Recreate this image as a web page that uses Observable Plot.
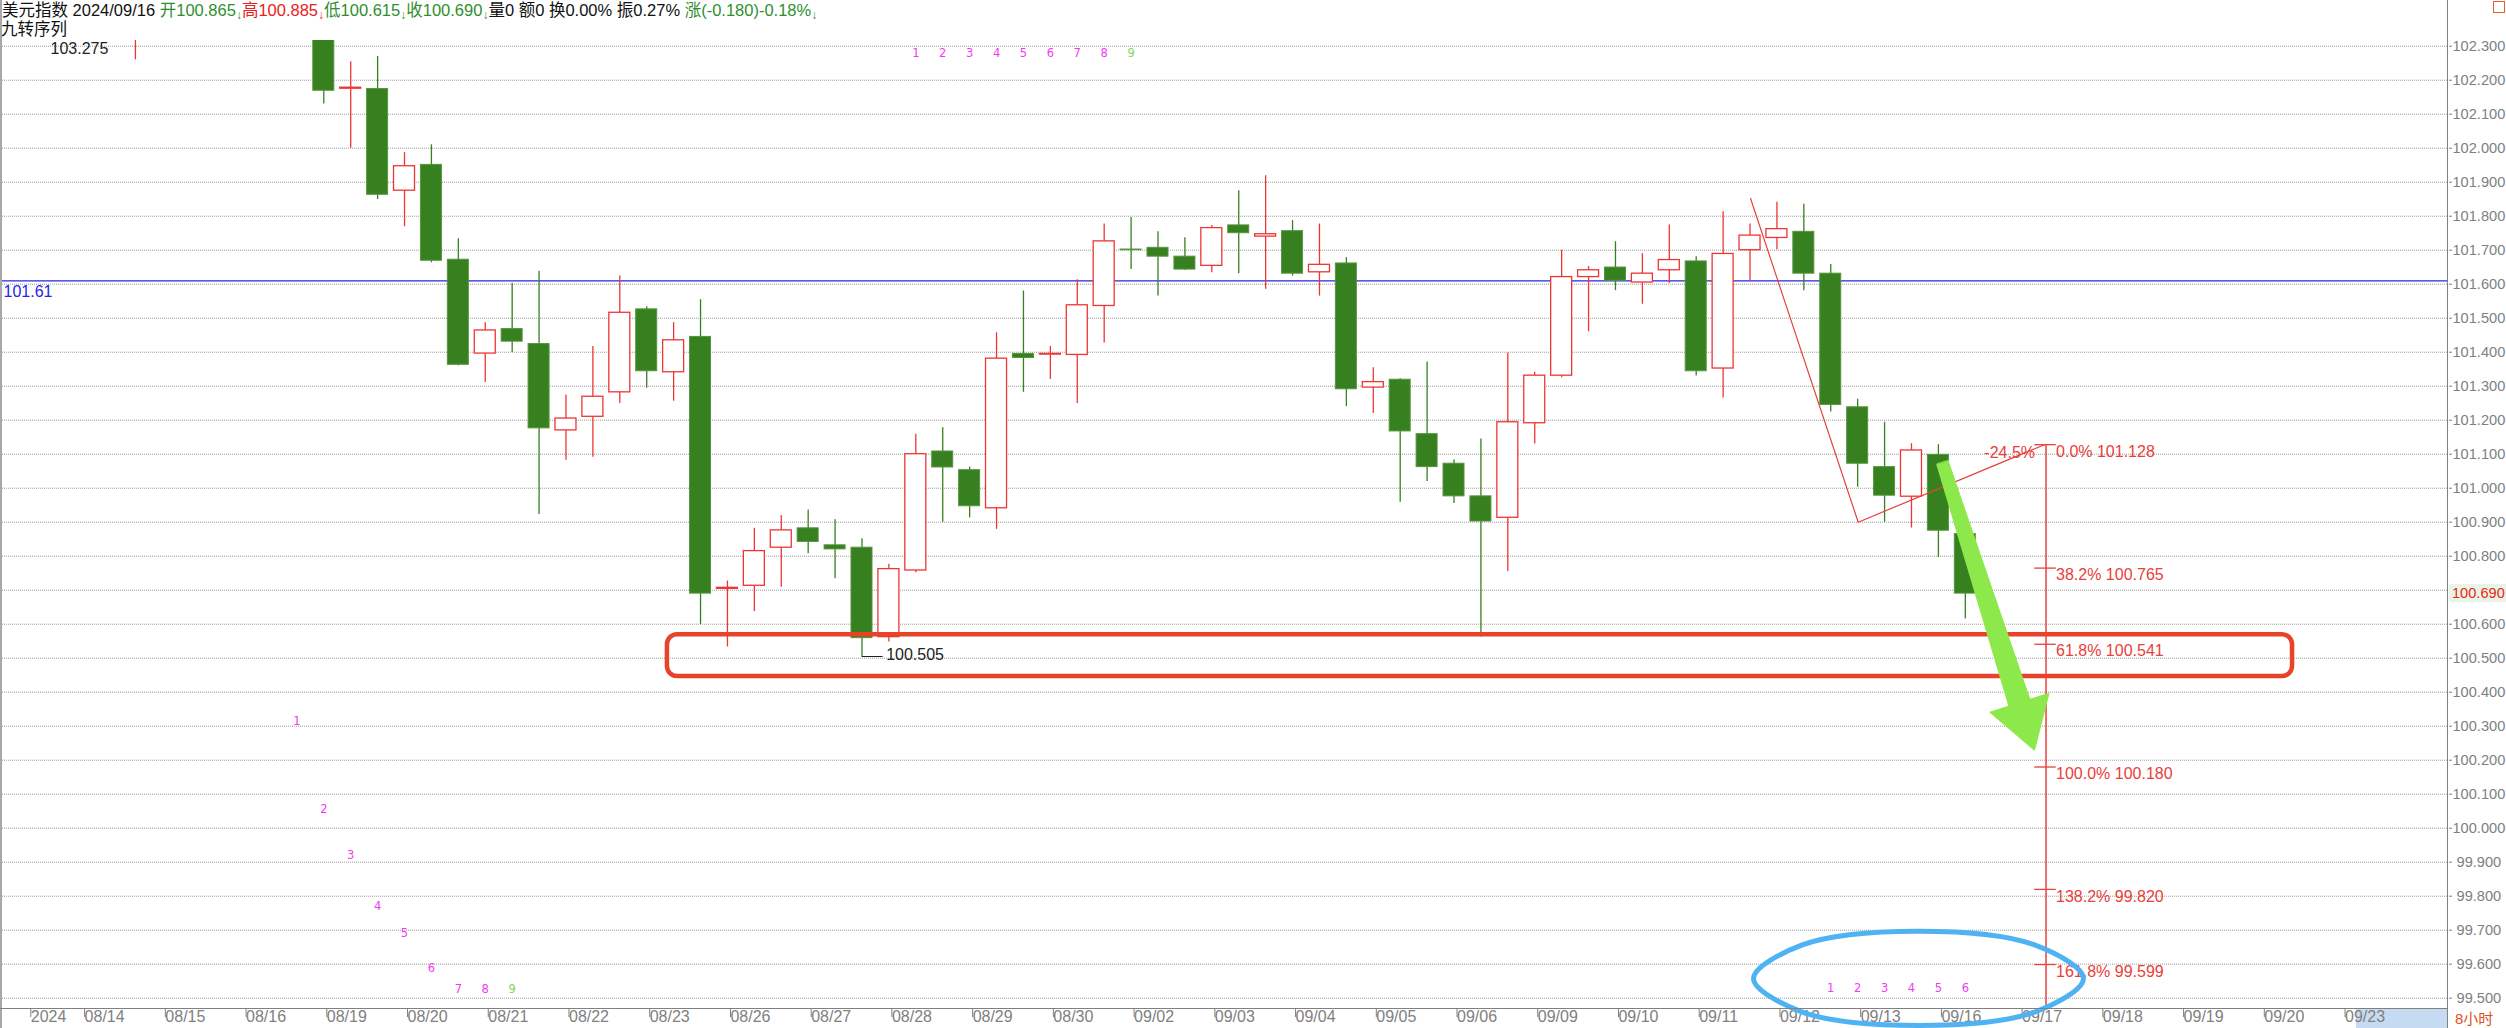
<!DOCTYPE html>
<html><head><meta charset="utf-8">
<script src="https://cdn.jsdelivr.net/npm/d3@7"></script>
<script src="https://cdn.jsdelivr.net/npm/@observablehq/plot@0.6"></script>
<style>
body{margin:0;background:#fff;}
#wrap{position:relative;width:2506px;height:1028px;overflow:hidden;background:#fff;font-family:"Liberation Sans",Arial,"Noto Sans CJK SC",sans-serif;}
.ov{position:absolute;white-space:nowrap;}
.g{color:#2f8f2f}.r{color:#e82020}.k{color:#111}
.ar{font-size:12px;position:relative;top:3px;}
</style></head>
<body><div id="wrap">
<div class="ov" style="left:2px;top:0px;font-size:16.5px;line-height:20px;z-index:2;"><span class="k">美元指数 2024/09/16 </span><span class="g">开100.865<span class="ar">↓</span></span><span class="r">高100.885<span class="ar">↓</span></span><span class="g">低100.615<span class="ar">↓</span></span><span class="g">收100.690<span class="ar">↓</span></span><span class="k">量0 额0 换0.00% 振0.27% </span><span class="g">涨(-0.180)-0.18%<span class="ar">↓</span></span></div>
<div class="ov k" style="left:1px;top:19px;font-size:16.5px;line-height:20px;z-index:2;">九转序列</div>
</div>
<script>
// ---------- data ----------
const firstBar = 9; // bar index of first fully listed 8-hour bar (08/19 first bar)
const opens  = [102.42,102.175,102.174,101.875,101.951,101.672,101.396,101.468,101.424,101.170,101.210,101.282,101.526,101.341,101.445,100.704,100.713,100.825,100.882,100.832,100.825,100.562,100.758,101.108,101.053,100.941,101.395,101.393,101.392,101.536,101.702,101.707,101.681,101.654,101.773,101.740,101.756,101.635,101.661,101.296,101.319,101.159,101.072,100.976,100.913,101.191,101.331,101.621,101.649,101.605,101.641,101.667,101.352,101.700,101.736,101.754,101.631,101.238,101.062,100.975,101.098,100.865];
const highs  = [102.50,102.254,102.270,101.987,102.010,101.734,101.487,101.603,101.638,101.274,101.417,101.624,101.534,101.487,101.554,100.727,100.882,100.920,100.936,100.907,100.851,100.776,101.159,101.178,101.062,101.457,101.580,101.417,101.613,101.777,101.796,101.754,101.737,101.773,101.875,101.919,101.787,101.777,101.678,101.354,101.322,101.371,101.083,101.145,101.398,101.341,101.700,101.652,101.725,101.690,101.774,101.681,101.813,101.777,101.841,101.835,101.658,101.262,101.194,101.131,101.128,100.885];
const lows   = [102.130,102.000,101.849,101.769,101.663,101.360,101.311,101.399,100.923,101.082,101.091,101.249,101.294,101.256,100.599,100.533,100.637,100.709,100.807,100.734,100.505,100.548,100.751,100.900,100.913,100.879,101.282,101.320,101.249,101.427,101.643,101.565,101.641,101.634,101.631,101.585,101.624,101.565,101.240,101.220,100.959,101.020,100.955,100.562,100.755,101.130,101.325,101.460,101.581,101.541,101.602,101.330,101.265,101.610,101.701,101.581,101.224,101.003,100.900,100.883,100.796,100.615];
const closes = [102.169,102.178,101.863,101.947,101.669,101.363,101.464,101.431,101.176,101.205,101.269,101.516,101.344,101.435,100.690,100.707,100.815,100.876,100.842,100.820,100.559,100.762,101.100,101.061,100.947,101.381,101.383,101.395,101.538,101.726,101.700,101.681,101.643,101.765,101.750,101.747,101.631,101.657,101.291,101.312,101.167,101.062,100.976,100.902,101.194,101.331,101.621,101.641,101.610,101.631,101.671,101.344,101.689,101.743,101.762,101.631,101.245,101.072,100.978,101.111,100.875,100.690];
// earlier bar (08/14 third bar) mostly above the view: only its lower wick is visible
const earlyBarIdx = [2];
const earlyBarLow = [102.26];
const earlyBarHigh = [103.275];

const dayLabels = ["08/14","08/15","08/16","08/19","08/20","08/21","08/22","08/23","08/26","08/27","08/28","08/29","08/30","09/02","09/03","09/04","09/05","09/06","09/09","09/10","09/11","09/12","09/13","09/16","09/17","09/18","09/19","09/20","09/23"];
const barsPerDay = 3;
const yearLabel = "2024", yearIdx = -2;
const yTicks = [99.5,99.6,99.7,99.8,99.9,100.0,100.1,100.2,100.3,100.4,100.5,100.6,100.7,100.8,100.9,101.0,101.1,101.2,101.3,101.4,101.5,101.6,101.7,101.8,101.9,102.0,102.1,102.2,102.3];
const lastClose = 100.690;
const refLevel = 101.61;
const viewHigh = 103.275, viewHighIdx = 2, viewHighLabelPos = 102.293;
const viewLow = 100.505, viewLowIdx = 29;

// 九转序列 (TD sequential) counts
const tdIdx   = [8,9,10,11,12,13,14,15,16, 31,32,33,34,35,36,37,38,39, 65,66,67,68,69,70];
const tdCount = [1,2,3,4,5,6,7,8,9, 1,2,3,4,5,6,7,8,9, 1,2,3,4,5,6];
const tdPos   = [100.314,100.055,99.92,99.77,99.69,99.587,99.526,99.526,99.526,
                 102.28,102.28,102.28,102.28,102.28,102.28,102.28,102.28,102.28,
                 99.528,99.528,99.528,99.528,99.528,99.528];

// Fibonacci extension tool
const fibIdx = 73;
const fibPct = ["0.0%","38.2%","61.8%","100.0%","138.2%","161.8%"];
const fibVal = [101.128,100.765,100.541,100.180,99.820,99.599];
const fibLineEnd = 99.40;
const zigIdx = [62.02,66.02,72.94];
const zigVal = [101.852,100.900,101.128];
const zigLabel = "-24.5%";

// hand-drawn annotations (index, price)
const boxIdx = [21.77, 82.16], boxVal = [100.446, 100.569];
const arrowIdx = [68.94,71.62,70.91,72.57,73.11,72.40,69.36];
const arrowVal = [101.070,100.359,100.341,100.229,100.397,100.379,101.081];
const ellIdx = [74.39,72.60,68.26,63.92,62.13,63.92,68.26,72.60];
const ellVal = [99.558,99.460,99.420,99.460,99.558,99.656,99.697,99.656];

// ---------- build ----------
const RED="#ee3535", GREEN="#37801f", GREEN_EDGE="#55953f", GRID="#9c9c9c", AXIS="#808080", FIB="#e8403a";
const candles = opens.map((o,k)=>({i:firstBar+k,o,h:highs[k],l:lows[k],c:closes[k]}));
const up = candles.filter(d=>d.c>=d.o), down = candles.filter(d=>d.c<d.o);
const early = earlyBarIdx.map((i,k)=>({i,l:earlyBarLow[k],h:earlyBarHigh[k]}));
const dateTicks = [{i:yearIdx,label:yearLabel}, ...dayLabels.map((d,k)=>({i:k*barsPerDay,label:d}))];
const labelOf = new Map(dateTicks.map(d=>[d.i,d.label]));
const td = tdIdx.map((i,k)=>({i,n:tdCount[k],v:tdPos[k]}));
const fibs = fibVal.map((v,k)=>({v,label:fibPct[k]+" "+v.toFixed(3)}));
const zig = zigIdx.map((i,k)=>({i,v:zigVal[k]}));
const arrow = arrowIdx.map((i,k)=>({i,v:arrowVal[k]}));
const ell = ellIdx.map((i,k)=>({i,v:ellVal[k]}));
const HW = 0.39;
const fmtY = v => (v<100?"\u00a0":"")+v.toFixed(3);

const chart = Plot.plot({
  width:2506, height:1028,
  marginTop:40, marginBottom:20, marginLeft:0, marginRight:58,
  x:{type:"linear", domain:[-3.0138, 87.956], axis:null},
  y:{type:"linear", domain:[99.4697, 102.3168], axis:null},
  style:{fontFamily:'"Liberation Sans", Arial, "Noto Sans CJK SC", sans-serif', fontSize:"16px", background:"transparent", overflow:"visible"},
  marks:[
    Plot.gridY({ticks:yTicks, stroke:GRID, strokeOpacity:1, strokeDasharray:"1,1"}),
    Plot.axisY({anchor:"right", ticks:yTicks.filter(t=>Math.abs(t-lastClose)>0.03), tickFormat:fmtY, tickSize:3, tickPadding:1, fontSize:14.6, color:AXIS, label:null}),
    Plot.axisX({anchor:"bottom", ticks:dateTicks.map(d=>d.i), tickFormat:i=>labelOf.get(i), tickSize:9, tickPadding:-7, textAnchor:"start", dx:3, fontSize:16, color:AXIS, label:null}),
    Plot.ruleY([refLevel], {stroke:"#2626e6", strokeWidth:1.3}),
    Plot.text([refLevel], {y:d=>d, text:d=>String(d), frameAnchor:"left", textAnchor:"start", dx:3, dy:11, fill:"#2626e6", fontSize:16}),
    // candles
    Plot.ruleX(early, {x:"i", y1:"l", y2:"h", stroke:RED, strokeWidth:1.3, clip:true}),
    Plot.ruleX(up, {x:"i", y1:"l", y2:"h", stroke:RED, strokeWidth:1.3, clip:true}),
    Plot.ruleX(down, {x:"i", y1:"l", y2:"h", stroke:GREEN, strokeWidth:1.3, clip:true}),
    Plot.rect(up, {x1:d=>d.i-HW, x2:d=>d.i+HW, y1:"o", y2:"c", fill:"white", stroke:RED, strokeWidth:1.3, clip:true}),
    Plot.rect(down, {x1:d=>d.i-HW, x2:d=>d.i+HW, y1:"o", y2:"c", fill:GREEN, stroke:GREEN_EDGE, strokeWidth:1, clip:true}),
    // extreme labels
    Plot.text([viewHigh], {x:()=>viewHighIdx, y:()=>viewHighLabelPos, text:d=>d.toFixed(3), textAnchor:"end", dx:-27, fill:"#222", fontSize:16}),
    Plot.line([{i:viewLowIdx,v:viewLow},{i:viewLowIdx+0.75,v:viewLow}], {x:"i", y:"v", stroke:"#222", strokeWidth:1}),
    Plot.text([viewLow], {x:()=>viewLowIdx+0.75, y:d=>d, text:d=>d.toFixed(3), textAnchor:"start", lineAnchor:"bottom", dx:4, dy:3, fill:"#222", fontSize:16}),
    // TD sequential numbers
    Plot.text(td, {x:"i", y:"v", text:d=>String(d.n), fill:d=>d.n===9?"#7fd858":"#f03cf0", fontSize:11.5, fontFamily:"DejaVu Sans"}),
    // red box
    Plot.rect([{x1:boxIdx[0],x2:boxIdx[1],y1:boxVal[0],y2:boxVal[1]}], {x1:"x1", x2:"x2", y1:"y1", y2:"y2", rx:10, fill:"none", stroke:"#e8432a", strokeWidth:4.5}),
    // fibonacci tool
    Plot.line(zig, {x:"i", y:"v", stroke:FIB, strokeWidth:1.2}),
    Plot.ruleX([fibIdx], {x:d=>d, y1:()=>fibVal[0], y2:()=>fibLineEnd, stroke:FIB, strokeWidth:1.5, clip:true}),
    Plot.ruleY(fibs, {y:"v", x1:()=>fibIdx-0.42, x2:()=>fibIdx+0.38, stroke:FIB, strokeWidth:1.3}),
    Plot.text(fibs, {x:()=>fibIdx, y:"v", text:"label", textAnchor:"start", dx:10, dy:7, fill:FIB, fontSize:16}),
    Plot.text([zigLabel], {x:()=>fibIdx, y:()=>fibVal[0], text:d=>d, textAnchor:"end", dx:-11, dy:8, fill:FIB, fontSize:16}),
    // green arrow
    Plot.line(arrow, {x:"i", y:"v", curve:"linear-closed", fill:"#8de84b", stroke:"#8de84b", strokeWidth:1}),
    // blue ellipse
    Plot.line(ell, {x:"i", y:"v", curve:"catmull-rom-closed", stroke:"#4fb2f2", strokeWidth:5, fill:"none"})
  ]
});
const wrap = document.getElementById("wrap");
function box(css, before){const d=document.createElement("div");d.className="ov";d.style.cssText=css; if(before) wrap.insertBefore(d, wrap.firstChild); else wrap.appendChild(d); return d;}
// highlighted band behind the time axis (under the svg)
box("left:2356px;top:1009px;width:92px;height:19px;background:#c6daf2;", true);
chart.style.position="absolute"; chart.style.left="0"; chart.style.top="0";
wrap.insertBefore(chart, wrap.children[1]);

// frame lines & chrome
box("left:0;top:0;width:2px;height:1028px;background:#a8a8a8;");
box("left:0;top:1008px;width:2448px;height:1px;background:#808080;");
box("left:2447px;top:0;width:1px;height:1028px;background:#808080;");
box("left:2493px;top:1px;width:10px;height:10px;border:1.5px solid #e8602c;");
const t8 = box("left:2455px;top:1010px;font-size:15px;line-height:17px;color:#e0501e;"); t8.textContent="8小时";
const py = chart.scale("y").apply(lastClose);
const tag = box(`left:2449px;top:${py-9}px;height:18px;line-height:18px;padding:0 3px;background:#e8f4e6;color:#f02020;font-size:14.6px;`);
tag.textContent = lastClose.toFixed(3);
</script>
</body></html>
